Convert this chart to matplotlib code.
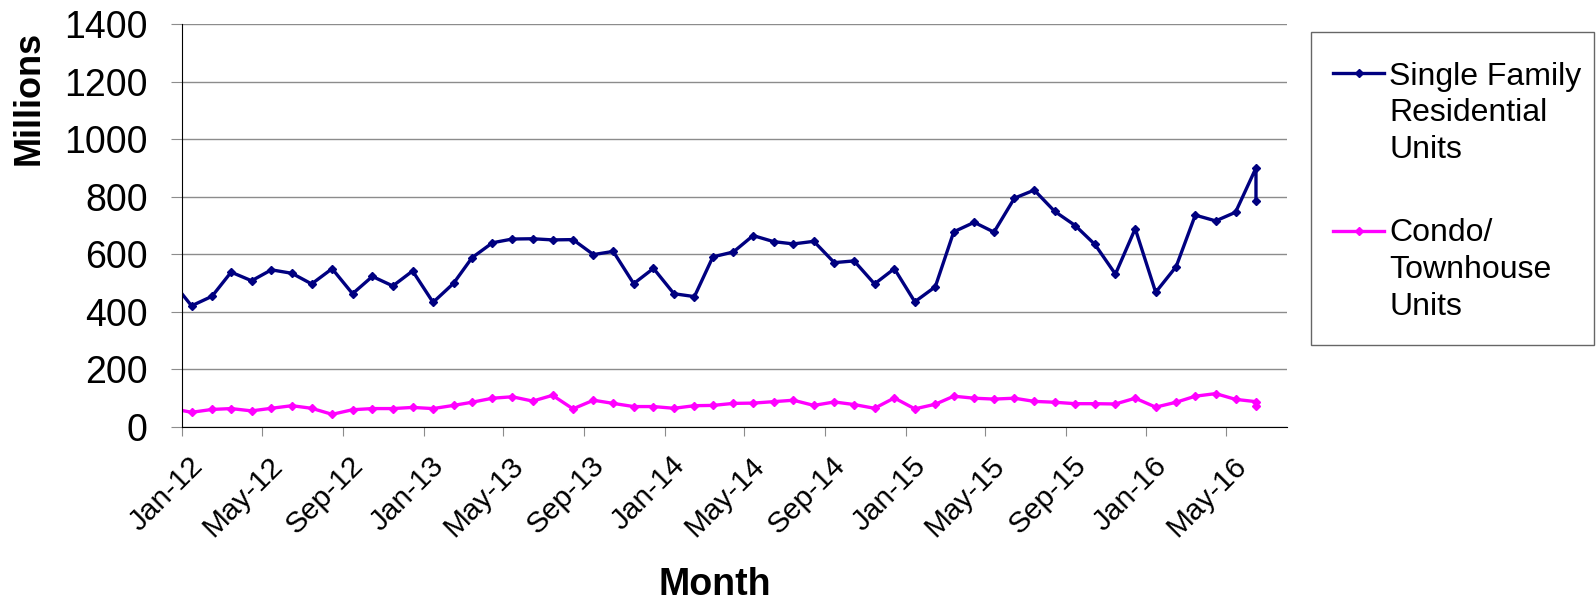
import matplotlib
matplotlib.use("Agg")
import matplotlib.pyplot as plt
import matplotlib.dates as mdates
import matplotlib.transforms as mtransforms
from matplotlib.patches import Rectangle
import pandas as pd

plt.rcParams['font.family'] = ['Liberation Sans', 'DejaVu Sans']

# monthly points (mid-month), first one is Dec-11 and gets clipped by the axis,
# last month has two entries at the same date
months = list(pd.date_range('2011-12-01', '2016-06-01', freq='MS') + pd.Timedelta(days=14))
months.append(pd.Timestamp('2016-06-15'))

single_family = [510,
                 421, 454, 538, 508, 546, 534, 497, 550, 463, 523, 490, 542,
                 433, 499, 588, 640, 653, 654, 650, 651, 599, 610, 498, 551,
                 463, 453, 591, 608, 665, 644, 636, 645, 571, 577, 497, 550,
                 435, 487, 678, 711, 677, 795, 823, 749, 700, 634, 531, 689,
                 468, 557, 736, 716, 746, 900, 784]
condo = [65,
         51, 61, 64, 56, 65, 74, 65, 44, 60, 64, 64, 68,
         64, 75, 86, 100, 105, 90, 110, 63, 93, 82, 71, 71,
         65, 74, 75, 82, 83, 88, 93, 75, 87, 78, 65, 101,
         63, 79, 107, 100, 97, 100, 89, 86, 81, 81, 80, 100,
         69, 86, 107, 116, 96, 88, 74]

series = [single_family, condo]
labels = ['Single Family\nResidential\nUnits', 'Condo/\nTownhouse\nUnits']
colors = ['#000080', '#FF00FF']
yticks = [0, 200, 400, 600, 800, 1000, 1200, 1400]

W, H = 1596, 600
fig = plt.figure(figsize=(W / 100, H / 100), dpi=100)
ax = fig.add_axes([182.3 / W, 1 - 427 / H, (1287 - 182.3) / W, (427 - 24) / H])

for vals, c in zip(series, colors):
    ax.plot(months, vals, color=c, lw=2.4, marker='D', ms=4)

ax.set_xlim(pd.Timestamp('2012-01-01'), pd.Timestamp('2016-08-01'))
ax.set_ylim(0, 1400)
ax.set_yticks(yticks)
ax.yaxis.grid(True, color='#8c8c8c', lw=1)
ax.set_axisbelow(True)
ax.xaxis.set_major_locator(mdates.MonthLocator(bymonth=[1, 5, 9]))
ax.xaxis.set_major_formatter(mdates.DateFormatter('%b-%y'))
ax.spines['top'].set_visible(False)
ax.spines['right'].set_visible(False)
ax.tick_params(axis='y', length=8, color='#8c8c8c', labelsize=27, pad=17)
ax.tick_params(axis='x', length=6.5, color='#8c8c8c', labelsize=21.5, pad=11)

shift = mtransforms.ScaledTranslation(6 / 100, 0, fig.dpi_scale_trans)
for lbl in ax.get_xticklabels():
    lbl.set_rotation(45)
    lbl.set_ha('right')
    lbl.set_va('top')
    lbl.set_rotation_mode('anchor')
    lbl.set_transform(lbl.get_transform() + shift)

fig.text(29 / W, 1 - 97.5 / H, 'Millions', rotation=90, ha='center', va='center',
         fontsize=26, weight='bold')
fig.text(715 / W, 1 - 595 / H, 'Month', ha='center', va='baseline',
         fontsize=27, weight='bold')

# legend drawn by hand in pixel coords
lax = fig.add_axes([0, 0, 1, 1])
lax.set_xlim(0, W)
lax.set_ylim(H, 0)
lax.axis('off')
lax.add_patch(Rectangle((1311, 32), 283, 313, fill=False, ec='#666666', lw=1))
for lab, c, ly, by in zip(labels, colors, [73, 230.7], [158.3, 315]):
    lax.plot([1333, 1358.5, 1384], [ly, ly, ly], color=c, lw=2.4, marker='D', ms=4, markevery=[1])
    lax.text(1389, by, lab, fontsize=23, va='baseline', linespacing=1.3)

fig.savefig('out.png', dpi=100)
